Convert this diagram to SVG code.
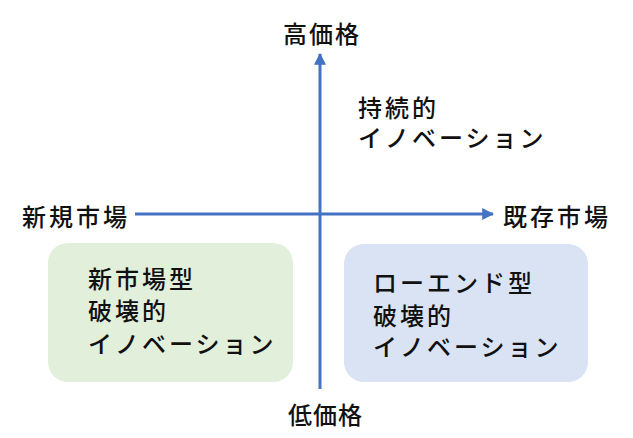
<svg xmlns="http://www.w3.org/2000/svg" width="633" height="438" viewBox="0 0 633 438">
<style>
text{font-family:"Noto Sans CJK JP","Noto Sans",sans-serif;font-size:24px;font-weight:500;fill:#111;dominant-baseline:central;letter-spacing:3px}
.ax{stroke:#4472C4;stroke-width:3;fill:none}
</style>
<defs>
<marker id="ah" viewBox="0 0 10 10" refX="9" refY="5" markerWidth="4" markerHeight="4" orient="auto" markerUnits="strokeWidth">
<path d="M0,0L10,5L0,10z" fill="#4472C4"/>
</marker>
</defs>
<rect width="633" height="438" fill="#fff"/>
<g id="connectors">
<line class="ax" x1="320" y1="389" x2="320" y2="54" marker-end="url(#ah)"/>
<line class="ax" x1="135" y1="214" x2="493" y2="214" marker-end="url(#ah)"/>
</g>
<g id="high"><text x="283" y="32" style="letter-spacing:2px">高価格</text></g>
<g id="low"><text x="288" y="413" style="letter-spacing:1px">低価格</text></g>
<g id="new-market"><text x="22" y="215">新規市場</text></g>
<g id="existing-market"><text x="503" y="215">既存市場</text></g>
<g id="sustaining">
<text x="358" y="106">持続的</text>
<text x="358" y="136">イノベーション</text>
</g>
<g id="new-market-disruption">
<rect x="48" y="243" width="245" height="139" rx="20" fill="#E2EFDA"/>
<text x="88" y="277">新市場型</text>
<text x="88" y="309">破壊的</text>
<text x="88" y="342">イノベーション</text>
</g>
<g id="low-end-disruption">
<rect x="344" y="244" width="244" height="138" rx="20" fill="#DAE3F3"/>
<text x="373" y="281">ローエンド型</text>
<text x="373" y="314">破壊的</text>
<text x="373" y="345">イノベーション</text>
</g>
</svg>
